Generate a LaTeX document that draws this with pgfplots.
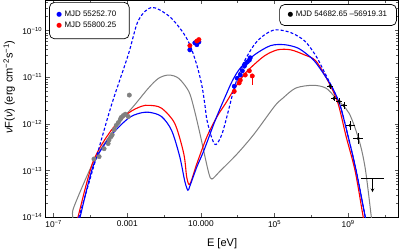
\documentclass[border=0pt]{standalone}
\usepackage{fontspec}
\setmainfont{Liberation Sans}
\newfontfamily\djv{DejaVu Sans}
\usepackage{pgfplots}
\pgfplotsset{compat=1.18}
\definecolor{mblue}{RGB}{0,0,255}
\definecolor{mred}{RGB}{255,0,0}
\definecolor{mgray}{RGB}{128,128,128}
\begin{document}
\begin{tikzpicture}
\begin{axis}[
  scale only axis, width=350bp, height=215bp,
  xmin=-7.44, xmax=11.74, ymin=-14, ymax=-9.35,
  axis line style={line width=0.8bp, black},
  tick style={line width=0.5bp, color=black!65},
  major tick length=4bp, minor tick length=2.2bp,
  tick align=inside,
  xtick={-7,-3,1,5,9},
  xticklabels={10\textsuperscript{−7},0.001,10.000,10\textsuperscript{5},10\textsuperscript{9}},
  minor xtick={-5,-1,3,7,11},
  ytick={-14,-13,-12,-11,-10},
  yticklabels={10\textsuperscript{−14},10\textsuperscript{−13},10\textsuperscript{−12},10\textsuperscript{−11},10\textsuperscript{−10}},
  minor ytick={-13.699,-13.523,-13.398,-13.301,-13.222,-13.155,-13.097,-13.046,
  -12.699,-12.523,-12.398,-12.301,-12.222,-12.155,-12.097,-12.046,
  -11.699,-11.523,-11.398,-11.301,-11.222,-11.155,-11.097,-11.046,
  -10.699,-10.523,-10.398,-10.301,-10.222,-10.155,-10.097,-10.046,
  -9.699,-9.523,-9.398},
  ticklabel style={font=\fontsize{8.3}{10}\selectfont},
  xlabel={E [eV]},
  ylabel={\textit{ν}F(\textit{ν}) (erg cm\textsuperscript{−2}s\textsuperscript{−1})},
  label style={font=\fontsize{11}{13}\selectfont},
  xlabel style={at={(axis description cs:0.5,-0.12)}, anchor=center},
  ylabel style={at={(axis description cs:-0.103,0.6)}, anchor=center},
]
% gray model
\addplot[mgray, line width=1bp, smooth, tension=0.5] table {
-6.10 -14.30
-5.96 -14.00
-5.90 -13.78
-4.81 -12.79
-3.88 -12.21
-3.20 -11.86
-2.62 -11.60
-1.85 -11.23
-1.30 -11.02
-0.75 -10.95
-0.21 -11.02
0.34 -11.30
0.62 -11.66
0.95 -12.21
1.22 -12.70
1.44 -13.07
1.60 -13.18
2.04 -13.01
2.97 -12.64
3.90 -12.21
5.00 -11.62
5.44 -11.45
6.15 -11.23
7.08 -11.17
7.79 -11.23
8.34 -11.45
9.05 -11.77
9.60 -12.36
9.93 -12.96
10.26 -14.00
10.32 -14.20
};
% red model
\addplot[mred, line width=1.1bp, smooth, tension=0.5] table {
-5.80 -14.25
-5.68 -14.00
-4.86 -12.81
-3.88 -12.14
-2.95 -11.77
-2.23 -11.62
-1.79 -11.60
-1.14 -11.66
-0.42 -11.99
0.07 -12.64
0.23 -13.14
0.40 -13.29
0.78 -12.85
1.33 -12.27
1.88 -11.84
2.37 -11.54
2.81 -11.25
3.25 -10.99
3.63 -10.82
4.45 -10.54
5.16 -10.41
5.88 -10.41
6.64 -10.52
7.25 -10.65
7.96 -11.12
8.45 -11.56
8.89 -12.27
9.38 -13.01
9.82 -14.00
9.90 -14.15
};
% blue model
\addplot[mblue, line width=1.1bp, smooth, tension=0.5] table {
-5.70 -14.20
-5.58 -14.02
-4.81 -12.85
-3.88 -12.25
-2.95 -11.88
-2.34 -11.77
-1.79 -11.75
-1.14 -11.84
-0.59 -12.14
-0.15 -12.70
0.12 -13.22
0.29 -13.42
0.40 -13.33
0.78 -12.92
1.16 -12.57
1.71 -11.99
2.04 -11.67
2.37 -11.37
2.70 -11.08
3.14 -10.80
3.90 -10.52
4.78 -10.32
5.55 -10.30
6.26 -10.37
6.81 -10.52
7.25 -10.69
8.07 -11.17
8.56 -11.60
9.00 -12.27
9.44 -13.01
9.93 -14.00
10.00 -14.15
};
% blue dashed model
\addplot[mblue, line width=1.1bp, dash pattern=on 3bp off 2bp, smooth, tension=0.5] table {
-5.80 -14.22
-5.63 -14.00
-4.75 -12.81
-3.88 -11.62
-2.95 -10.52
-2.40 -9.78
-1.68 -9.50
-0.75 -9.68
-0.04 -10.00
0.40 -10.30
0.78 -10.74
1.05 -11.17
1.22 -11.60
1.33 -11.92
1.60 -12.31
1.82 -12.44
2.15 -12.21
2.53 -11.66
2.81 -11.23
3.25 -10.74
3.90 -10.30
4.45 -10.09
5.05 -9.98
5.88 -10.04
6.64 -10.22
7.25 -10.54
7.70 -10.88
8.07 -11.17
8.56 -11.60
9.00 -12.27
9.44 -13.01
9.93 -14.00
10.00 -14.15
};
% gray data
\addplot[only marks, mark=*, mark size=2.2bp, mgray, mark options={fill=mgray, draw=mgray}] table {
-4.81 -12.75
-4.53 -12.70
-4.26 -12.53
-4.04 -12.42
-3.99 -12.34
-3.88 -12.27
-3.82 -12.23
-3.71 -12.12
-3.60 -12.03
-3.49 -11.97
-3.38 -11.90
-3.33 -11.86
-3.22 -11.82
-3.11 -11.79
-2.95 -11.84
-2.89 -11.38
};
% blue data
\addplot[only marks, mark=*, mark size=2.2bp, mblue, mark options={fill=mblue, draw=mblue},
  error bars/.cd, y dir=both, y explicit, error mark=none, error bar style={line width=0.6bp}]
  table[x=x, y=y, y error=e] {
x y e
0.40 -10.41 0.04
0.67 -10.26 0.03
0.78 -10.30 0.03
0.89 -10.24 0.03
2.81 -11.19 0.05
2.97 -11.02 0.04
3.14 -10.95 0.04
3.25 -10.86 0.04
3.36 -10.76 0.04
3.41 -10.71 0.04
3.52 -10.67 0.04
3.63 -10.63 0.04
3.68 -10.58 0.04
};
% red data
\addplot[only marks, mark=*, mark size=2.2bp, mred, mark options={fill=mred, draw=mred},
  error bars/.cd, y dir=both, y explicit, error mark=none, error bar style={line width=0.6bp}]
  table[x=x, y=y, y error plus=ep, y error minus=em] {
x y ep em
0.40 -10.32 0.03 0.03
0.78 -10.22 0.03 0.03
0.89 -10.19 0.03 0.03
2.81 -11.30 0.05 0.05
3.08 -11.12 0.04 0.04
3.14 -11.06 0.04 0.04
3.41 -10.95 0.04 0.04
3.63 -10.86 0.04 0.04
3.79 -10.97 0.05 0.20
};
% Fermi data
\addplot[only marks, mark=*, mark size=1.4bp, black,
  error bars/.cd, x dir=both, x explicit, y dir=both, y explicit, error mark=none, error bar style={line width=0.6bp}]
  table[x=x, y=y, x error=ex, y error=ey] {
x y ex ey
8.01 -11.19 0.15 0.05
8.23 -11.45 0.15 0.06
8.51 -11.51 0.15 0.06
8.78 -11.60 0.15 0.07
9.11 -12.03 0.25 0.10
9.55 -12.31 0.27 0.12
};
% upper limit
\addplot[black, line width=0.8bp] coordinates {(9.71,-13.16) (10.92,-13.16)};
\addplot[black, line width=0.6bp, -stealth] coordinates {(10.32,-13.16) (10.32,-13.46)};
% legends
\draw[line width=0.7bp, rounded corners=5bp, fill=white] (rel axis cs:0.011,0.823) rectangle (rel axis cs:0.237,0.991);
\node[anchor=west, inner sep=0, font=\fontsize{7.9}{9}\selectfont] at (rel axis cs:0.03,0.935) {{\djv\fontsize{6.5}{7}\selectfont\color{mblue}●}\hspace{2.5bp}MJD 55252.70};
\node[anchor=west, inner sep=0, font=\fontsize{7.9}{9}\selectfont] at (rel axis cs:0.03,0.885) {{\djv\fontsize{6.5}{7}\selectfont\color{mred}●}\hspace{2.5bp}MJD 55800.25};
\draw[line width=0.7bp, rounded corners=5bp, fill=white] (rel axis cs:0.663,0.884) rectangle (rel axis cs:0.994,0.981);
\node[anchor=west, inner sep=0, font=\fontsize{7.9}{9}\selectfont] at (rel axis cs:0.685,0.935) {{\djv\fontsize{6.5}{7}\selectfont\color{black}●}\hspace{2.5bp}MJD 54682.65 –56919.31};
\end{axis}
\end{tikzpicture}
\end{document}
